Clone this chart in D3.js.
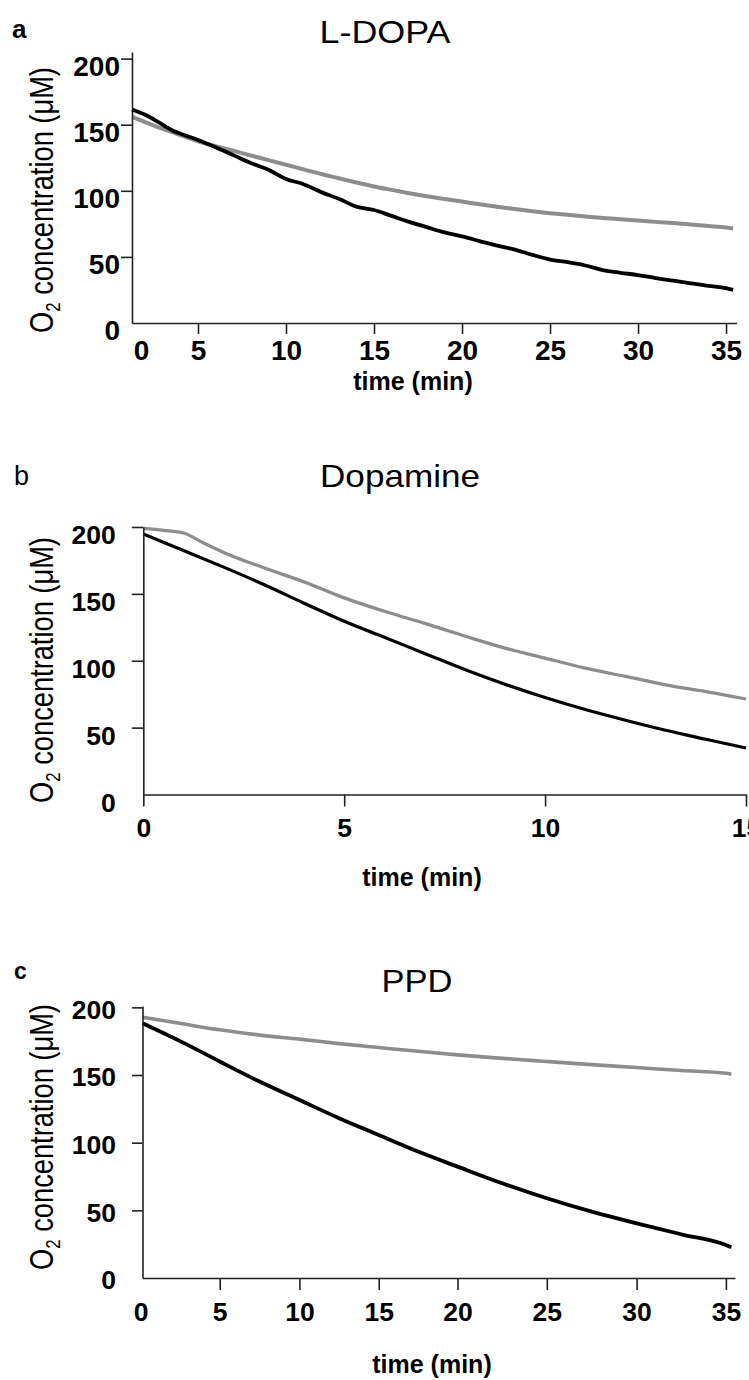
<!DOCTYPE html>
<html>
<head>
<meta charset="utf-8">
<script src="https://cdn.jsdelivr.net/npm/d3@7"></script>
<style>
html,body{margin:0;padding:0;background:#fff}
svg{display:block}
</style>
</head>
<body>
<svg id="chart" width="749" height="1380"></svg>
<script>
// ---------------- data ----------------
const panelLetters = ["a", "b", "c"];
const panelTitles = ["L-DOPA", "Dopamine", "PPD"];
const yAxisTitle = ["O", "2", " concentration (\u03BCM)"];
const xAxisTitle = "time (min)";
const yTickValues = [0, 50, 100, 150, 200];
const xTicksLong = [0, 5, 10, 15, 20, 25, 30, 35];
const xTicksShort = [0, 5, 10, 15];

// a: L-DOPA
const ldopaTime = [0,1,2,3,4,5,6,7,8,9,10,11,12,13,14,15,16,17,18,19,20,21,22,23,24,25,26,27,28,29,30,31,32,33,34,35,35.4];
const ldopaBlack = [161.5,157.5,152,146,142,138.5,133,127,121,116,109,105,99,94,88,85.5,81,76.5,72.5,68.5,65.5,62,58.5,55.5,51.5,48,46,43.5,40,38,36.3,34,32,30,28,26.3,25];
const ldopaGray = [156,152,148,144.5,141,137.4,133.8,130.3,126.7,123.2,119.7,116.2,112.7,109.5,106.3,103.3,100.7,98.2,95.9,93.8,91.9,89.8,87.9,86.2,84.6,83.1,81.8,80.6,79.5,78.5,77.5,76.5,75.6,74.6,73.4,72.2,71.5];

// b: Dopamine
const dopamineBlackTime = [0,1,2,3,4,5,6,7,8,9,10,11,12,13,14,15];
const dopamineBlack = [194.8,182.5,170,157,143,129.5,117.5,105.5,93.5,82.5,72.5,63.5,55.5,48,41.3,34.8];
const dopamineGrayTime = [0,0.5,1,1.5,2,3,4,5,6,7,8,9,10,11,12,13,14,15];
const dopamineGray = [199,197.5,195.5,188,181,169.5,159,147,137,128,118.5,109.5,102,94.5,88.3,82,77,71.4];

// c: PPD
const ppdTime = [0,2.5,5,7.5,10,12.5,15,17.5,20,22.5,25,27.5,30,32.5,35,35.3];
const ppdBlack = [188.3,174.7,160,145.2,131.6,118.1,105.7,93.4,82.3,70,58.9,49,40.4,32.3,24.4,22.7];
const ppdGray = [192.7,188,183.4,179.5,176.5,173.2,170.3,167.5,164.9,162.3,160,157.7,155.5,153.3,151.3,150.6];

// ---------------- drawing ----------------
const FONT = '"Liberation Sans", Arial, Helvetica, sans-serif';
const GRAY = "#8d8d8d";
const svg = d3.select("#chart");

const panels = [
  {
    letter: panelLetters[0], title: panelTitles[0],
    x: d3.scaleLinear().domain([0, 5, 35.6]).range([132, 198, 736.6]),
    y: d3.scaleLinear().domain([0, 205]).range([323, 52]),
    xTicks: xTicksLong,
    series: [
      {t: ldopaTime, v: ldopaGray, color: GRAY, w: 4},
      {t: ldopaTime, v: ldopaBlack, color: "#000", w: 3.8}
    ],
    yTick: 11, yPad: 1, yShift: 8, yFont: 28,
    xTick: 11, xPad: 6, xFont: 28, zeroDx: 9, zeroTick: false,
    letterPos: [12, 38, 26, "bold"],
    titlePos: [385, 43, 131],
    yTitlePos: [53, 200],
    xTitlePos: [413, 390]
  },
  {
    letter: panelLetters[1], title: panelTitles[1],
    x: d3.scaleLinear().domain([0, 15]).range([143.3, 746]),
    y: d3.scaleLinear().domain([0, 200]).range([794.5, 527]),
    xTicks: xTicksShort,
    series: [
      {t: dopamineGrayTime, v: dopamineGray, color: GRAY, w: 3.3},
      {t: dopamineBlackTime, v: dopamineBlack, color: "#000", w: 3.2}
    ],
    yTick: 11.5, yPad: 16, yShift: 8.5, yFont: 26.5,
    xTick: 12, xPad: 11.5, xFont: 26.5, zeroDx: 0, zeroTick: true,
    letterPos: [14, 485, 27, "normal"],
    titlePos: [400, 487, 160],
    yTitlePos: [53, 670],
    xTitlePos: [422, 886]
  },
  {
    letter: panelLetters[2], title: panelTitles[2],
    x: d3.scaleLinear().domain([0, 5, 10, 15, 20, 25, 30, 35, 35.5])
          .range([142.5, 219.7, 299.4, 378.7, 457.5, 546.8, 636.6, 725.9, 735]),
    y: d3.scaleLinear().domain([0, 201]).range([1278, 1006]),
    xTicks: xTicksLong,
    series: [
      {t: ppdTime, v: ppdGray, color: GRAY, w: 3.6},
      {t: ppdTime, v: ppdBlack, color: "#000", w: 3.8}
    ],
    yTick: 10.6, yPad: 16, yShift: 2.5, yFont: 26.5,
    xTick: 12, xPad: 12, xFont: 26.5, zeroDx: -2, zeroTick: false,
    letterPos: [14, 979, 23, "bold"],
    titlePos: [417, 992, 71],
    yTitlePos: [53, 1137],
    xTitlePos: [432, 1373]
  }
];

function styleAxis(g, fontSize) {
  g.selectAll(".domain").attr("stroke", "#222").attr("stroke-width", 1.6);
  g.selectAll(".tick line").attr("stroke", "#222").attr("stroke-width", 1.6);
  g.selectAll(".tick text")
    .attr("fill", "#000")
    .style("font-family", FONT)
    .style("font-weight", "bold")
    .style("font-size", fontSize + "px");
}

function fitText(textSel, cx, cy, targetLen, rotate) {
  const len = textSel.node().getComputedTextLength();
  const sx = targetLen / len;
  textSel.attr("transform",
    `translate(${cx},${cy})` + (rotate ? " rotate(-90)" : "") + ` scale(${sx},1)`);
}

panels.forEach(p => {
  const g = svg.append("g");
  const x0 = p.x.range()[0];
  const y0 = p.y.range()[0];

  // data lines
  p.series.forEach(s => {
    const pts = d3.zip(s.t, s.v);
    g.append("path")
      .datum(pts)
      .attr("fill", "none")
      .attr("stroke", s.color)
      .attr("stroke-width", s.w)
      .attr("stroke-linejoin", "round")
      .attr("stroke-linecap", "butt")
      .attr("d", d3.line().x(d => p.x(d[0])).y(d => p.y(d[1])).curve(d3.curveMonotoneX));
  });

  // y axis
  const gy = g.append("g")
    .attr("transform", `translate(${x0},0)`)
    .call(d3.axisLeft(p.y).tickValues(yTickValues).tickSize(p.yTick).tickPadding(p.yPad).tickSizeOuter(0));
  styleAxis(gy, p.yFont);
  gy.selectAll(".tick text").attr("transform", `translate(0,${p.yShift})`);
  gy.selectAll(".tick").filter(d => d === 0).select("line").remove();

  // x axis
  const gx = g.append("g")
    .attr("transform", `translate(0,${y0})`)
    .call(d3.axisBottom(p.x).tickValues(p.xTicks).tickSize(p.xTick).tickPadding(p.xPad).tickSizeOuter(0));
  styleAxis(gx, p.xFont);
  const zero = gx.selectAll(".tick").filter(d => d === 0);
  zero.select("text").attr("dx", p.zeroDx);
  if (!p.zeroTick) zero.select("line").remove();

  // panel letter
  svg.append("text")
    .attr("x", p.letterPos[0]).attr("y", p.letterPos[1])
    .style("font-family", FONT).style("font-size", p.letterPos[2] + "px")
    .style("font-weight", p.letterPos[3])
    .text(p.letter);

  // title
  const title = svg.append("text")
    .attr("text-anchor", "middle")
    .style("font-family", FONT).style("font-size", "32px")
    .text(p.title);
  fitText(title, p.titlePos[0], p.titlePos[1], p.titlePos[2], false);

  // y axis title
  const yt = svg.append("text")
    .attr("text-anchor", "middle")
    .style("font-family", FONT).style("font-size", "34px");
  yt.append("tspan").text(yAxisTitle[0]);
  yt.append("tspan").attr("dy", 7).style("font-size", "21px").text(yAxisTitle[1]);
  yt.append("tspan").attr("dy", -7).text(yAxisTitle[2]);
  fitText(yt, p.yTitlePos[0], p.yTitlePos[1], 266, true);

  // x axis title
  svg.append("text")
    .attr("x", p.xTitlePos[0]).attr("y", p.xTitlePos[1])
    .attr("text-anchor", "middle")
    .style("font-family", FONT).style("font-size", "25px").style("font-weight", "bold")
    .text(xAxisTitle);
});
</script>
</body>
</html>
